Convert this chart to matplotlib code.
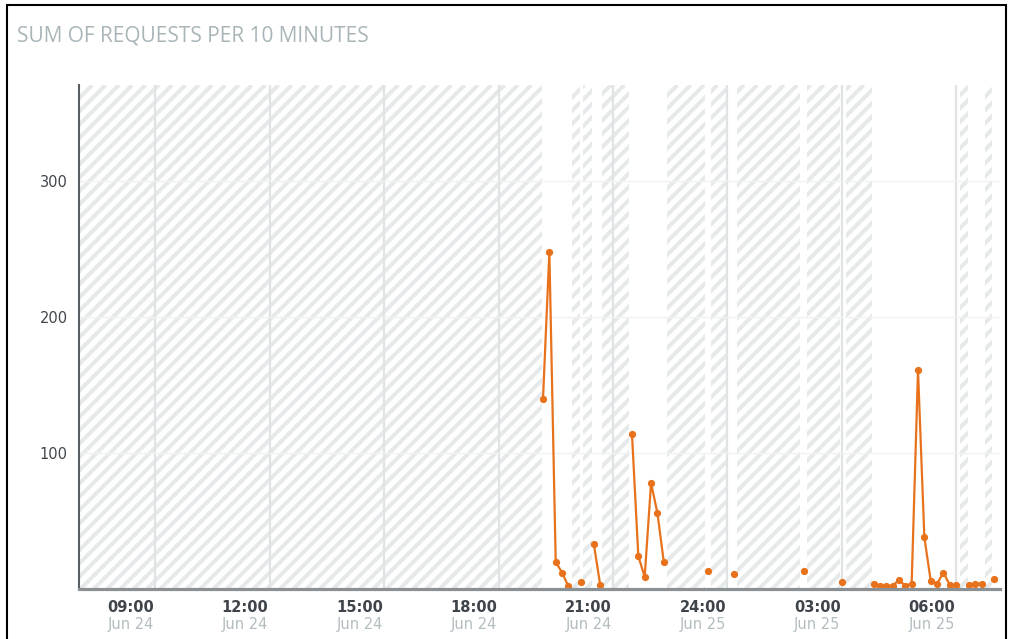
import matplotlib
matplotlib.use("Agg")
import matplotlib.pyplot as plt
import matplotlib.dates as mdates
from matplotlib.collections import LineCollection
from matplotlib.patches import PathPatch, Rectangle
from matplotlib.path import Path
from matplotlib.transforms import ScaledTranslation
import numpy as np
import pandas as pd

# ---------------- data ----------------
title = "SUM OF REQUESTS PER 10 MINUTES"

times = [
    "2019-06-24 19:10", "2019-06-24 19:20", "2019-06-24 19:30", "2019-06-24 19:40", "2019-06-24 19:50",
    "2019-06-24 20:10",
    "2019-06-24 20:30", "2019-06-24 20:40",
    "2019-06-24 21:30", "2019-06-24 21:40", "2019-06-24 21:50", "2019-06-24 22:00", "2019-06-24 22:10", "2019-06-24 22:20",
    "2019-06-24 23:30",
    "2019-06-25 00:10",
    "2019-06-25 02:00",
    "2019-06-25 03:00",
    "2019-06-25 03:50", "2019-06-25 04:00", "2019-06-25 04:10", "2019-06-25 04:20", "2019-06-25 04:30",
    "2019-06-25 04:40", "2019-06-25 04:50", "2019-06-25 05:00", "2019-06-25 05:10", "2019-06-25 05:20",
    "2019-06-25 05:30", "2019-06-25 05:40", "2019-06-25 05:50", "2019-06-25 06:00",
    "2019-06-25 06:20", "2019-06-25 06:30", "2019-06-25 06:40",
    "2019-06-25 07:00",
]
values = [
    140, 248, 20, 12, 2,
    5,
    33, 3,
    114, 24, 9, 78, 56, 20,
    13,
    11,
    13,
    5,
    4, 2.5, 2.5, 2.5, 6.5,
    2.5, 4, 161, 38, 6,
    4, 12, 3, 3,
    3, 4, 4,
    7,
]

# periods drawn with the hatched "no data" pattern
band_starts = [
    "2019-06-24 07:00", "2019-06-24 19:55", "2019-06-24 20:13", "2019-06-24 20:43",
    "2019-06-24 22:25", "2019-06-24 23:35", "2019-06-25 00:16", "2019-06-25 02:05",
    "2019-06-25 03:06", "2019-06-25 06:06", "2019-06-25 06:46",
]
band_ends = [
    "2019-06-24 19:08", "2019-06-24 20:08", "2019-06-24 20:27", "2019-06-24 21:26",
    "2019-06-24 23:25", "2019-06-24 23:59", "2019-06-25 01:55", "2019-06-25 02:58",
    "2019-06-25 03:48", "2019-06-25 06:19", "2019-06-25 06:56",
]

tick_times = [
    "2019-06-24 09:00", "2019-06-24 12:00", "2019-06-24 15:00", "2019-06-24 18:00",
    "2019-06-24 21:00", "2019-06-25 00:00", "2019-06-25 03:00", "2019-06-25 06:00",
]
tick_hours = ["09:00", "12:00", "15:00", "18:00", "21:00", "24:00", "03:00", "06:00"]
tick_dates = ["Jun 24", "Jun 24", "Jun 24", "Jun 24", "Jun 24", "Jun 25", "Jun 25", "Jun 25"]

y_ticks = [100, 200, 300]
x_range = ["2019-06-24 07:00", "2019-06-25 07:09"]
y_range = [0, 371]

# ---------------- styling ----------------
ORANGE = "#e8721c"
HATCH = "#e6e9ea"
GRID_V = "#dfe3e4"
GRID_H = "#f1f2f2"

W_PX, H_PX = 1011, 639
fig = plt.figure(figsize=(W_PX / 100, H_PX / 100), dpi=100)
ax_l, ax_r, ax_t, ax_b = 79, 1000, 85, 589
ax = fig.add_axes([ax_l / W_PX, 1 - ax_b / H_PX, (ax_r - ax_l) / W_PX, (ax_b - ax_t) / H_PX])

t = pd.to_datetime(pd.Series(times))
v = np.array(values, dtype=float)
xnum = mdates.date2num(t.dt.to_pydatetime())

ax.set_xlim(mdates.date2num(pd.to_datetime(x_range).to_pydatetime()))
ax.set_ylim(*y_range)

# hatched bands (texture clipped to the band rectangles)
bs = mdates.date2num(pd.to_datetime(band_starts).to_pydatetime())
be = mdates.date2num(pd.to_datetime(band_ends).to_pydatetime())
rects = [Path([(a, y_range[0]), (b, y_range[0]), (b, y_range[1]), (a, y_range[1]), (a, y_range[0])],
              [Path.MOVETO, Path.LINETO, Path.LINETO, Path.LINETO, Path.CLOSEPOLY])
         for a, b in zip(bs, be)]
clip = PathPatch(Path.make_compound_path(*rects), transform=ax.transData, fc="none", ec="none")
ax.add_patch(clip)

aw, ah = ax_r - ax_l, ax_b - ax_t
spacing = 13.3
offs = np.arange(-ah, aw + spacing, spacing)
segs = [[(o / aw, 0), ((o + ah) / aw, 1)] for o in offs]
lc = LineCollection(segs, colors=HATCH, linewidths=2.9, transform=ax.transAxes, zorder=0.3)
lc.set_clip_path(clip)
ax.add_collection(lc)

# grid
ax.set_axisbelow(True)
tick_num = mdates.date2num(pd.to_datetime(tick_times).to_pydatetime())
ax.set_xticks(tick_num)
ax.set_xticklabels([])
ax.set_yticks(y_ticks)
ax.set_yticklabels([str(y) for y in y_ticks])
ax.grid(axis="x", color=GRID_V, linewidth=1.6)
ax.grid(axis="y", color=GRID_H, linewidth=1.0)
ax.tick_params(axis="both", length=0)
ax.tick_params(axis="y", pad=8, labelsize=10.5, labelcolor="#41474d")

# data: break the line wherever a 10-minute bin is missing
gap = t.diff() > pd.Timedelta(minutes=10)
run_id = gap.cumsum().to_numpy()
for r in np.unique(run_id):
    m = run_id == r
    ax.plot(xnum[m], v[m], color=ORANGE, lw=1.6, marker="o", ms=4.2, mec=ORANGE, mfc=ORANGE,
            zorder=3, clip_on=False, solid_joinstyle="miter")

# spines
for s in ("top", "right"):
    ax.spines[s].set_visible(False)
ax.spines["left"].set_color("#5a5f63")
ax.spines["left"].set_linewidth(1.5)
ax.spines["bottom"].set_color("#8b9094")
ax.spines["bottom"].set_linewidth(2.3)
ax.spines["bottom"].set_zorder(4)

# two-line x labels, centred a little to the left of each grid line
tr = ax.get_xaxis_transform()
for x, h, d in zip(tick_num, tick_hours, tick_dates):
    ax.text(x, 0, h, transform=tr + ScaledTranslation(-0.245, -0.18, fig.dpi_scale_trans),
            ha="center", va="center", fontsize=10.5, fontweight="bold", color="#3f444a")
    ax.text(x, 0, d, transform=tr + ScaledTranslation(-0.245, -0.355, fig.dpi_scale_trans),
            ha="center", va="center", fontsize=10.5, color="#b3bdc0")

# title and outer frame
fig.text(17 / W_PX, 1 - 36 / H_PX, title, ha="left", va="center", fontsize=15,
         family="Open Sans", color="#a9b5b8")
fig.patches.append(Rectangle((7 / W_PX, -0.1), 999 / W_PX, 1.1 - 5 / H_PX, transform=fig.transFigure,
                             fill=False, ec="black", lw=1.5))

fig.savefig("out.png", dpi=100)
